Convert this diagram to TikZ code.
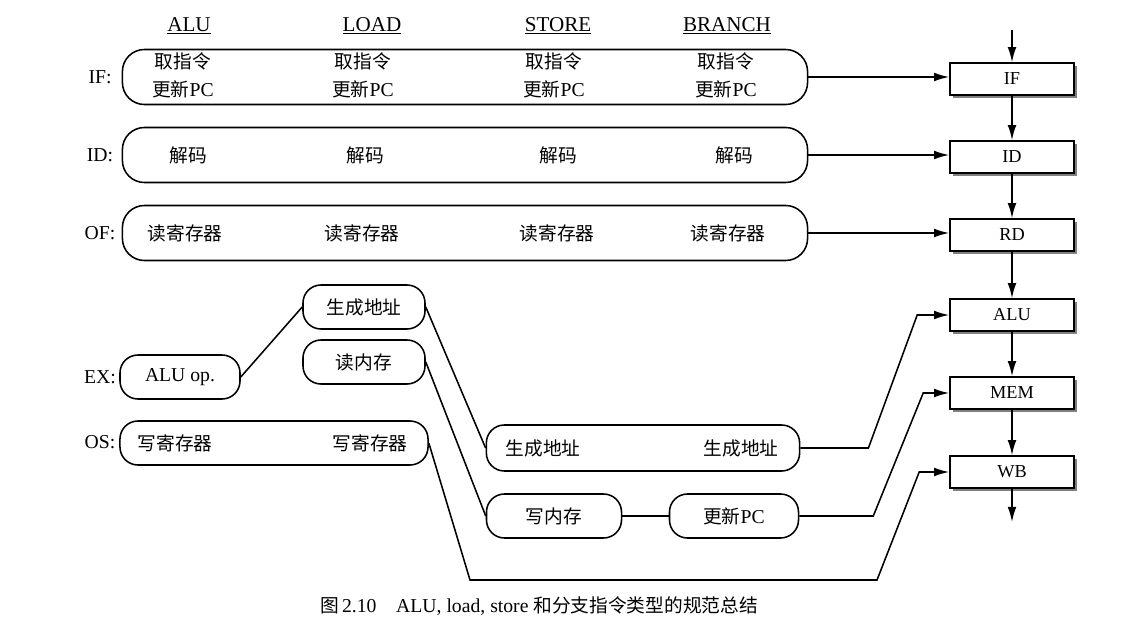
\documentclass[tikz,border=0pt]{standalone}
\usepackage{fontspec}
\setmainfont{Liberation Serif}
\newfontfamily\cjk{Noto Sans CJK SC}[Scale=0.95]
\usetikzlibrary{arrows.meta,shadows,calc}

\begin{document}
\begin{tikzpicture}[x=0.025cm, y=-0.025cm, line width=1.1pt,
    >={Latex[length=3.8mm,width=2.2mm]},
    font=\fontsize{14}{20}\selectfont,
    stage/.style={draw, rounded corners=0.55cm, minimum width=17.125cm, minimum height=1.375cm, inner sep=0pt},
    pill/.style={draw, rounded corners=0.45cm, minimum height=1.1cm, inner sep=0pt},
    unit/.style={draw, fill=white, minimum width=3.1cm, minimum height=0.8cm,
        font=\fontsize{13}{15}\selectfont,
        drop shadow={opacity=1, shadow xshift=0.07cm, shadow yshift=-0.07cm}},
    head/.style={font=\fontsize{15}{17}\selectfont}]
    \useasboundingbox (0,0) rectangle (1125,644);

    % Column headings
    \node[head] (hAlu) at (189,26) {\underline{ALU}};
    \node[head] (hLoad) at (372,26) {\underline{LOAD}};
    \node[head] (hStore) at (558,26) {\underline{STORE}};
    \node[head] (hBranch) at (727,26) {\underline{BRANCH}};

    % Stage labels
    \node (lIF) at (100,77) {IF:};
    \node (lID) at (100,155) {ID:};
    \node (lOF) at (100,233) {OF:};
    \node (lEX) at (100,377) {EX:};
    \node (lOS) at (100,442) {OS:};

    % Rows shared by all four types
    \node[stage] (ifRow) at (465,77) {};
    \node[align=center] (ifA) at (183,75) {{\cjk 取指令}\\{\cjk 更新}PC};
    \node[align=center] (ifB) at (363,75) {{\cjk 取指令}\\{\cjk 更新}PC};
    \node[align=center] (ifC) at (554,75) {{\cjk 取指令}\\{\cjk 更新}PC};
    \node[align=center] (ifD) at (726,75) {{\cjk 取指令}\\{\cjk 更新}PC};

    \node[stage] (idRow) at (465,155) {};
    \node (idA) at (188,155) {\cjk 解码};
    \node (idB) at (365,155) {\cjk 解码};
    \node (idC) at (558,155) {\cjk 解码};
    \node (idD) at (734,155) {\cjk 解码};

    \node[stage] (ofRow) at (465,233) {};
    \node (ofA) at (185,233) {\cjk 读寄存器};
    \node (ofB) at (362,233) {\cjk 读寄存器};
    \node (ofC) at (557,233) {\cjk 读寄存器};
    \node (ofD) at (728,233) {\cjk 读寄存器};

    % EX and OS boxes
    \node[pill, minimum width=3cm] (aluOp) at (180,377) {ALU op.};
    \node[pill, minimum width=3.05cm] (genAddr) at (364,307) {\cjk 生成地址};
    \node[pill, minimum width=3.05cm] (readMem) at (364,362) {\cjk 读内存};
    \node[pill, minimum width=7.7cm] (osRow) at (274,443) {};
    \node (osA) at (175,443) {\cjk 写寄存器};
    \node (osB) at (370,443) {\cjk 写寄存器};

    \node[pill, minimum width=7.83cm, minimum height=1.15cm] (addrRow) at (643,448) {};
    \node (addrA) at (543,448) {\cjk 生成地址};
    \node (addrB) at (741,448) {\cjk 生成地址};
    \node[pill, minimum width=3.375cm] (writeMem) at (554,516) {\cjk 写内存};
    \node[pill, minimum width=3.225cm] (newPC) at (734,516) {{\cjk 更新}PC};

    % Pipeline units
    \node[unit] (uIF) at (1012,79) {IF};
    \node[unit] (uID) at (1012,157) {ID};
    \node[unit] (uRD) at (1012,235) {RD};
    \node[unit] (uALU) at (1012,315) {ALU};
    \node[unit] (uMEM) at (1012,393) {MEM};
    \node[unit] (uWB) at (1012,472) {WB};
    \coordinate (pIn) at (1012,30);
    \coordinate (pOut) at (1012,522);

    \draw[->] (pIn) -- (uIF);
    \draw[->] (uIF) -- (uID);
    \draw[->] (uID) -- (uRD);
    \draw[->] (uRD) -- (uALU);
    \draw[->] (uALU) -- (uMEM);
    \draw[->] (uMEM) -- (uWB);
    \draw[->] (uWB) -- (pOut);

    % Rows into units
    \draw[->] (ifRow.east) -- (ifRow.east -| uIF.west);
    \draw[->] (idRow.east) -- (idRow.east -| uID.west);
    \draw[->] (ofRow.east) -- (ofRow.east -| uRD.west);

    % Lines between the boxes
    \draw (aluOp.east) -- (genAddr.west);
    \draw (genAddr.east) -- (addrRow.west);
    \draw (readMem.east) -- (writeMem.west);
    \draw (writeMem.east) -- (newPC.west);
    \draw[->] (addrRow.east) -- +(68,0) -- ([xshift=-0.8cm]uALU.west) -- (uALU.west);
    \draw[->] (newPC.east) -- +(74,0) -- ([xshift=-0.65cm]uMEM.west) -- (uMEM.west);
    \draw[->] (osRow.east) -- (470,580) -- (877,580) -- ([xshift=-0.75cm]uWB.west) -- (uWB.west);

    % Caption
    \node (caption) at (539,606) {{\cjk 图}\,2.10\quad ALU, load, store {\cjk 和分支指令类型的规范总结}};
\end{tikzpicture}
\end{document}
